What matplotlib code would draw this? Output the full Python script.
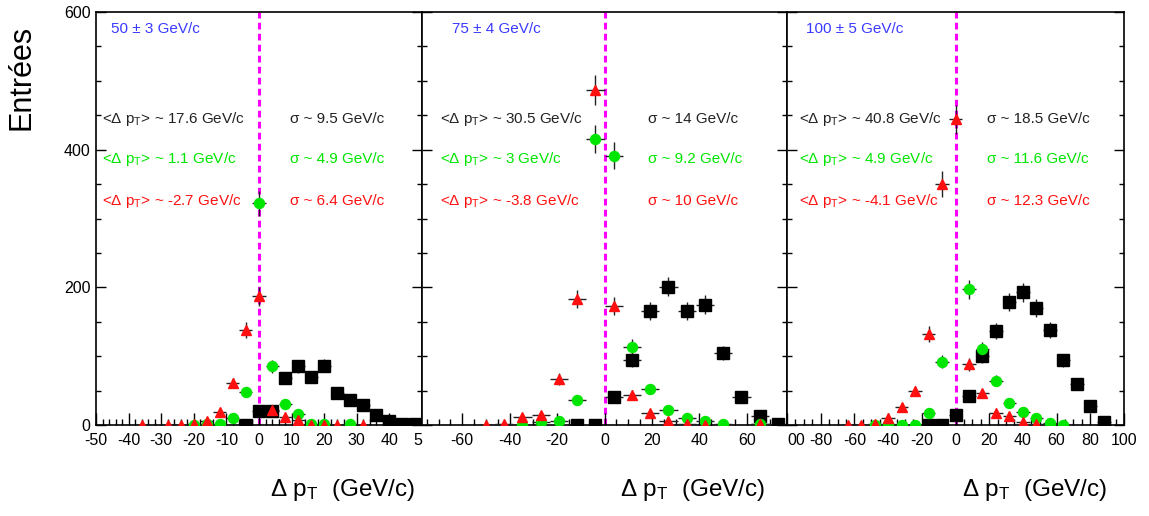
import numpy as np
import matplotlib
matplotlib.use("Agg")
import matplotlib.pyplot as plt
from matplotlib.ticker import MultipleLocator, FixedLocator, FixedFormatter

plt.rcParams['font.family'] = ['Liberation Sans', 'DejaVu Sans']
plt.rcParams['mathtext.fontset'] = 'custom'
plt.rcParams['mathtext.rm'] = 'Liberation Sans'
plt.rcParams['mathtext.it'] = 'Liberation Sans:italic'

# panel 1 : 50 +- 3 GeV/c, bins of 4
p1_black_x = [-4, 0, 4, 8, 12, 16, 20, 24, 28, 32, 36, 40, 44, 48]
p1_black_y = [0, 21, 21, 69, 85, 70, 86, 47, 36, 29, 15, 6, 2, 2]
p1_green_x = [-20, -16, -12, -8, -4, 0, 4, 8, 12, 16, 20, 28]
p1_green_y = [0, 2, 2, 10, 48, 322, 85, 30, 16, 2, 1, 1]
p1_red_x = [-36, -28, -24, -20, -16, -12, -8, -4, 0, 4, 8, 12, 16, 20, 24, 32]
p1_red_y = [0, 0, 0, 1, 6, 19, 61, 138, 187, 22, 12, 7, 0, 0, 0, 0]

# panel 2 : 75 +- 4 GeV/c, bins of 7.7
p2_black_x = [-11.55, -3.85, 3.85, 11.55, 19.25, 26.95, 34.65, 42.35, 50.05, 57.75, 65.45, 73.15]
p2_black_y = [0, 0, 41, 94, 166, 201, 166, 175, 105, 41, 13, 1]
p2_green_x = [-34.65, -26.95, -19.25, -11.55, -3.85, 3.85, 11.55, 19.25, 26.95, 34.65, 42.35, 50.05, 65.45]
p2_green_y = [0, 5, 6, 36, 416, 391, 114, 53, 22, 10, 6, 1, 1]
p2_red_x = [-50.05, -42.35, -34.65, -26.95, -19.25, -11.55, -3.85, 3.85, 11.55, 19.25, 26.95, 34.65, 42.35, 65.45]
p2_red_y = [0, 1, 11, 15, 67, 183, 487, 173, 44, 17, 6, 1, 0, 1]

# panel 3 : 100 +- 5 GeV/c, bins of 8
p3_black_x = [-16, -8, 0, 8, 16, 24, 32, 40, 48, 56, 64, 72, 80, 88]
p3_black_y = [0, 0, 14, 42, 100, 137, 179, 193, 170, 138, 94, 60, 28, 5]
p3_green_x = [-48, -40, -32, -24, -16, -8, 8, 16, 24, 32, 40, 48, 56, 64]
p3_green_y = [0, 1, 0, 0, 17, 92, 197, 110, 64, 32, 19, 10, 3, 0]
p3_red_x = [-64, -56, -48, -40, -32, -24, -16, -8, 0, 8, 16, 24, 32, 40, 48]
p3_red_y = [0, 0, 2, 10, 26, 50, 132, 350, 444, 88, 46, 17, 13, 4, 2]

titles = ["50 ± 3 GeV/c", "75 ± 4 GeV/c", "100 ± 5 GeV/c"]
mean_black = ["17.6", "30.5", "40.8"]
mean_green = ["1.1", "3", "4.9"]
mean_red = ["-2.7", "-3.8", "-4.1"]
sig_black = ["9.5", "14", "18.5"]
sig_green = ["4.9", "9.2", "11.6"]
sig_red = ["6.4", "10", "12.3"]

binw = [4, 7.7, 8]
xlims = [(-50, 50), (-77, 77), (-100, 100)]
minors = [2, 5, 5]
tick_pos = [list(range(-50, 51, 10)), list(range(-60, 61, 20)), list(range(-100, 101, 20))]
tick_lab = [["-50", "-40", "-30", "-20", "-10", "0", "10", "20", "30", "40", "5"],
            ["-60", "-40", "-20", "0", "20", "40", "60"],
            ["00", "-80", "-60", "-40", "-20", "0", "20", "40", "60", "80", "100"]]
# axes boxes in pixels (left, right)
boxes = [(96, 422), (422, 787), (787, 1124)]
text_x = [(-48.2, 9.5, -45.3), (-69.5, 18.5, -64.5), (-93, 18.5, -89)]
xlab_right = [415, 765, 1107]

data = [(p1_black_x, p1_black_y, p1_green_x, p1_green_y, p1_red_x, p1_red_y),
        (p2_black_x, p2_black_y, p2_green_x, p2_green_y, p2_red_x, p2_red_y),
        (p3_black_x, p3_black_y, p3_green_x, p3_green_y, p3_red_x, p3_red_y)]

W, H = 1149, 516
fig = plt.figure(figsize=(W / 100, H / 100), dpi=100)
bot, top = 425, 12

BLACK = 'black'
GREEN = '#00e600'
RED = '#ff1010'
BLUE = '#3a3aff'

for i in range(3):
    l, r = boxes[i]
    ax = fig.add_axes([l / W, 1 - bot / H, (r - l) / W, (bot - top) / H])
    bx, by, gx, gy, rx, ry = data[i]
    hw = binw[i] / 2
    ax.axvline(0, color='#ff00ff', lw=2.2, ls=(0, (2.2, 1.4)), zorder=1)
    for xs, ys, mk, col, ms in [(bx, by, 's', BLACK, 8.5), (gx, gy, 'o', GREEN, 7.2), (rx, ry, '^', RED, 7.8)]:
        ys = np.array(ys, dtype=float)
        ax.errorbar(xs, ys, xerr=hw, yerr=np.sqrt(ys), fmt=mk, color=col, ms=ms, mec=col,
                    ecolor='#222222', elinewidth=1, capsize=0, zorder=3)
    ax.set_xlim(*xlims[i])
    ax.set_ylim(0, 600)
    ax.xaxis.set_major_locator(FixedLocator(tick_pos[i]))
    ax.xaxis.set_major_formatter(FixedFormatter(tick_lab[i]))
    ax.xaxis.set_minor_locator(MultipleLocator(minors[i]))
    ax.yaxis.set_major_locator(MultipleLocator(200))
    ax.yaxis.set_minor_locator(MultipleLocator(50))
    ax.tick_params(which='both', direction='in', left=True, right=True, top=False, bottom=True,
                   labelsize=11.5, width=1)
    ax.tick_params(which='major', axis='x', length=9, pad=6)
    ax.tick_params(which='minor', axis='x', length=4.5)
    ax.tick_params(which='major', axis='y', length=7, pad=4)
    ax.tick_params(which='minor', axis='y', length=3.5)
    if i > 0:
        ax.tick_params(labelleft=False)
    for s in ax.spines.values():
        s.set_linewidth(1.2)
    labs = ax.get_xticklabels()
    if i == 0:
        labs[-1].set_ha('right')
    if i == 2:
        labs[0].set_ha('left')

    tx, sx, bxp = text_x[i]
    ax.text(bxp, 576, titles[i], color=BLUE, fontsize=11, va='center')
    rows = [(445, mean_black[i], sig_black[i], '#222222'),
            (387, mean_green[i], sig_green[i], GREEN),
            (326, mean_red[i], sig_red[i], RED)]
    for yy, m, s, c in rows:
        ax.text(tx, yy, r"<$\Delta$ p$_{\mathrm{T}}$> ~ " + m + " GeV/c", color=c, fontsize=11, va='center')
        ax.text(sx, yy, "σ ~ " + s + " GeV/c", color=c, fontsize=11, va='center')

    fig.text(xlab_right[i] / W, 1 - 490 / H, r"$\Delta$ p$_{\mathrm{T}}$  (GeV/c)", ha='right', va='center',
             fontsize=17.5)

fig.text(22 / W, 1 - 77 / H, "Entrées", rotation=90, ha='center', va='center', fontsize=22)

fig.savefig("out.png", dpi=100)
